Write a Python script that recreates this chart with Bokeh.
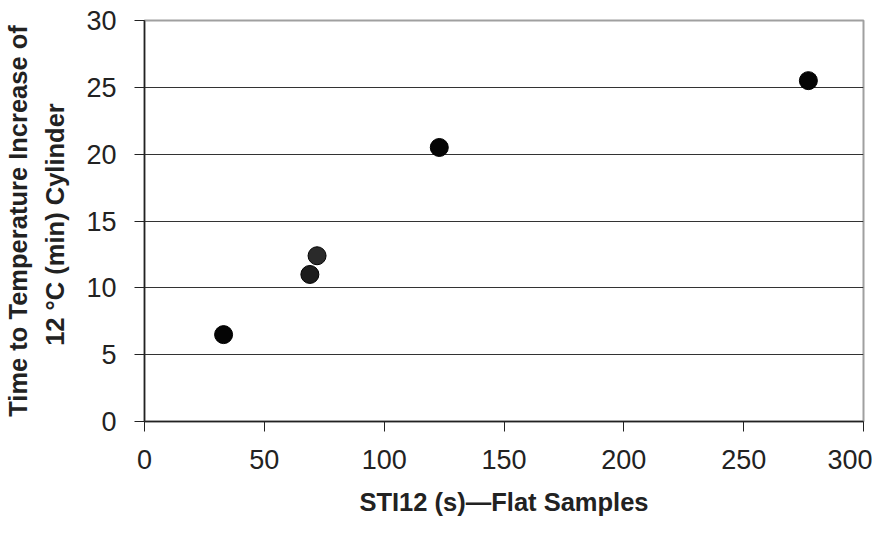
from bokeh.plotting import figure
from bokeh.models import Range1d, FixedTicker
from bokeh.embed import file_html
from bokeh.resources import INLINE

sti12 = [33, 69, 72, 123, 277]
time_min = [6.5, 11.0, 12.4, 20.5, 25.5]
colors = ["#050505", "#1c1c1c", "#2a2a2a", "#050505", "#050505"]
x_ticks = [0, 50, 100, 150, 200, 250, 300]
y_ticks = [0, 5, 10, 15, 20, 25, 30]

p = figure(width=872, height=518, output_backend="svg", toolbar_location=None,
           x_range=Range1d(0, 300), y_range=Range1d(0, 30),
           min_border_left=142, min_border_right=9, min_border_top=20, min_border_bottom=95)
p.background_fill_color = "white"
p.border_fill_color = "white"
p.outline_line_color = "#a0a0a0"
p.outline_line_width = 2

p.xgrid.grid_line_color = None
p.ygrid.ticker = FixedTicker(ticks=y_ticks)
p.ygrid.grid_line_color = "#333333"
p.ygrid.grid_line_width = 1

for ax in (p.xaxis[0], p.yaxis[0]):
    ax.axis_line_color = "#222222"
    ax.axis_line_width = 1.5
    ax.major_tick_line_color = "#222222"
    ax.major_tick_line_width = 1
    ax.major_tick_out = 10
    ax.major_tick_in = 0
    ax.minor_tick_line_color = None
    ax.major_label_text_font = "Liberation Sans"
    ax.major_label_text_font_size = "27px"
    ax.major_label_text_color = "#222222"
    ax.axis_label_text_font = "Liberation Sans"
    ax.axis_label_text_font_style = "bold"
    ax.axis_label_text_font_size = "25.5px"
    ax.axis_label_text_color = "#222222"

p.xaxis.ticker = FixedTicker(ticks=x_ticks)
p.yaxis.ticker = FixedTicker(ticks=y_ticks)
p.xaxis.major_label_standoff = 18
p.yaxis.major_label_standoff = 18
p.xaxis.axis_label = "STI12 (s)\u2014Flat Samples"
p.xaxis.axis_label_standoff = 16
p.yaxis.axis_label = "Time to Temperature Increase of\n12 \u00b0C  (min) Cylinder"
p.yaxis.axis_label_standoff = 14
p.yaxis.axis_label_text_line_height = 1.35

p.scatter(sti12, time_min, size=18, fill_color=colors, line_color="#000000", line_width=1)

open("out.html", "w").write(file_html(p, INLINE))
